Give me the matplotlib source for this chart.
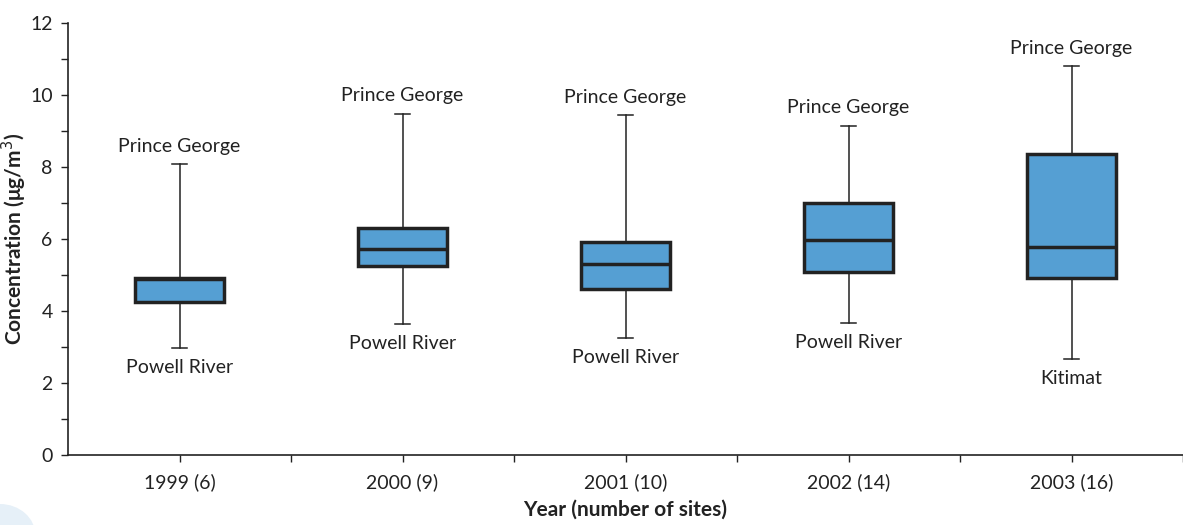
import matplotlib.pyplot as plt
from matplotlib.patches import Ellipse

# box plot summary per year (ug/m3)
years = ['1999 (6)', '2000 (9)', '2001 (10)', '2002 (14)', '2003 (16)']
mins = [2.97, 3.64, 3.25, 3.67, 2.67]
q1 = [4.25, 5.25, 4.61, 5.08, 4.92]
medians = [4.9, 5.72, 5.31, 5.97, 5.78]
q3 = [4.92, 6.3, 5.92, 7.0, 8.36]
maxs = [8.08, 9.47, 9.44, 9.14, 10.8]
max_site = ['Prince George'] * 5
min_site = ['Powell River', 'Powell River', 'Powell River', 'Powell River', 'Kitimat']

plt.rcParams['font.family'] = ['Lato', 'DejaVu Sans']

fig = plt.figure(figsize=(11.83, 5.25), dpi=100)
ax = fig.add_axes([0.0575, 0.1333, 0.9425, 0.823])

stats = []
for i in range(len(years)):
    stats.append(dict(whislo=mins[i], q1=q1[i], med=medians[i], q3=q3[i],
                      whishi=maxs[i], label=years[i], fliers=[]))

pos = list(range(1, len(years) + 1))
ax.bxp(stats, positions=pos, widths=0.4, patch_artist=True, showfliers=False,
       boxprops=dict(facecolor='#559fd3', edgecolor='#222222', linewidth=2.5),
       medianprops=dict(color='#222222', linewidth=2.5),
       whiskerprops=dict(color='#222222', linewidth=1.1),
       capprops=dict(color='#222222', linewidth=1.1),
       capwidths=0.07)

for i, p in enumerate(pos):
    ax.annotate(max_site[i], (p, maxs[i]), xytext=(0, 13), textcoords='offset points',
                ha='center', va='center', fontsize=14, color='#222222')
    ax.annotate(min_site[i], (p, mins[i]), xytext=(0, -14), textcoords='offset points',
                ha='center', va='center', fontsize=14, color='#222222')

ax.set_xlim(0.5, len(years) + 0.5)
ax.set_ylim(0, 12)
ax.set_yticks(range(0, 13, 2))
ax.set_yticks(range(1, 12, 2), minor=True)
ax.set_xticks(pos)
ax.set_xticklabels(years)
ax.set_xticks([p + 0.5 for p in pos], minor=True)

for s in ['top', 'right']:
    ax.spines[s].set_visible(False)
for s in ['left', 'bottom']:
    ax.spines[s].set_color('#222222')
    ax.spines[s].set_linewidth(1.2)

ax.tick_params(axis='both', which='both', colors='#222222', labelsize=14, length=5, width=1)
ax.tick_params(axis='y', pad=6)
ax.tick_params(axis='x', pad=8)

ax.set_ylabel('Concentration (\u03bcg/m$^3$)', fontsize=15, fontweight='bold', color='#222222')
ax.yaxis.set_label_coords(-0.035, 0.5)
ax.set_xlabel('Year (number of sites)', fontsize=15, fontweight='bold', color='#222222', labelpad=6)

# faint decoration in the lower-left corner
fig.patches.append(Ellipse((0.0, -0.02), 0.06, 0.12, transform=fig.transFigure,
                           facecolor='#e6f0f8', edgecolor='none', zorder=-1))

fig.savefig('out.png', dpi=100)
